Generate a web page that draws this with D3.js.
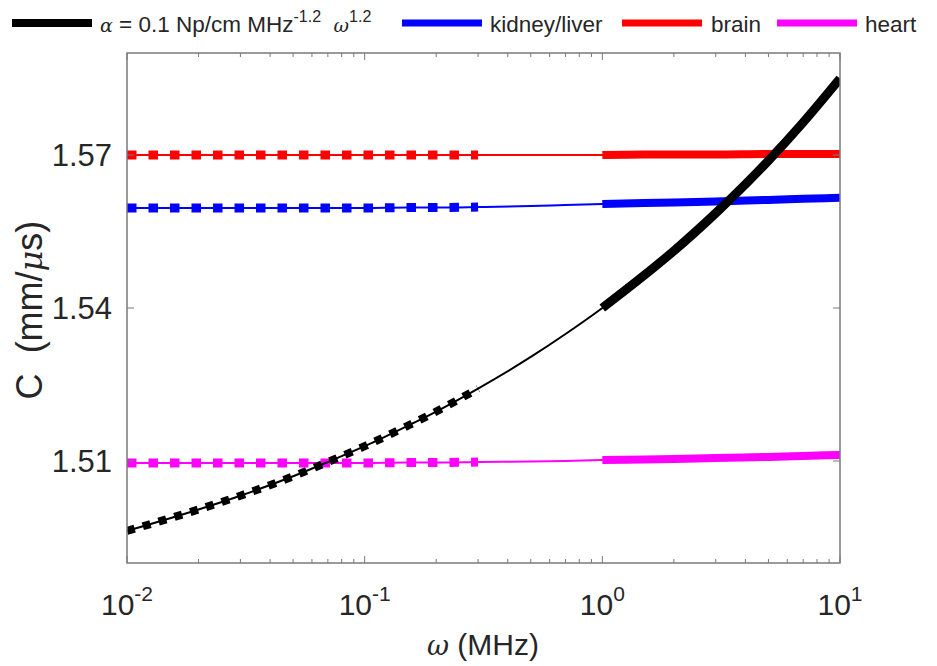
<!DOCTYPE html>
<html>
<head>
<meta charset="utf-8">
<script src="https://cdn.jsdelivr.net/npm/d3@7"></script>
<style>
  body { margin: 0; background: #fff; }
  svg { font-family: "Liberation Sans", Arial, sans-serif; }
</style>
</head>
<body>
<div id="chart"></div>
<script>
const freq = [0.01, 0.02, 0.03, 0.05, 0.07, 0.1, 0.15, 0.2, 0.3, 0.5, 0.7, 1, 1.5, 2, 3, 5, 7, 10];
const powerLaw = [1.4963, 1.5005, 1.5032, 1.5070, 1.5098, 1.5129, 1.5168, 1.5197, 1.5242, 1.5304, 1.5349, 1.5400, 1.5464, 1.5512, 1.5586, 1.5689, 1.5764, 1.5850];
const kidney = [1.5596, 1.5596, 1.5596, 1.5596, 1.5596, 1.5596, 1.5597, 1.5597, 1.5598, 1.5600, 1.5602, 1.5604, 1.5606, 1.5607, 1.5609, 1.5612, 1.5614, 1.5616];
const brain = [1.5700, 1.5700, 1.5700, 1.5700, 1.5700, 1.5700, 1.5700, 1.5700, 1.5700, 1.5700, 1.5700, 1.5700, 1.5701, 1.5701, 1.5701, 1.5702, 1.5702, 1.5702];
const heart = [1.5096, 1.5096, 1.5096, 1.5096, 1.5096, 1.5096, 1.5097, 1.5097, 1.5098, 1.5099, 1.5100, 1.5102, 1.5103, 1.5104, 1.5106, 1.5108, 1.5110, 1.5112];
const yTicks = [1.51, 1.54, 1.57];
const xTicks = [0.01, 0.1, 1, 10];
const xTickExp = ["-2", "-1", "0", "1"];

const seriesList = [
  { name: "alpha", values: powerLaw, color: "#000000", dash: "8,8.5", dashW: 8, thickW: 9 },
  { name: "kidney/liver", values: kidney, color: "#0000ff", dash: "9.5,12", dashW: 9, thickW: 8 },
  { name: "brain", values: brain, color: "#ff0000", dash: "9.5,12", dashW: 9, thickW: 8 },
  { name: "heart", values: heart, color: "#ff00ff", dash: "9.5,12", dashW: 9, thickW: 8 }
];

const W = 937, H = 666;
const margin = { top: 53, right: 97, bottom: 103, left: 127 };
const width = W - margin.left - margin.right,
      height = H - margin.top - margin.bottom;

const svg = d3.select("#chart").append("svg")
  .attr("width", W).attr("height", H);

const g = svg.append("g").attr("transform", `translate(${margin.left},${margin.top})`);

const x = d3.scaleLog().domain([0.01, 10]).range([0, width]);
const y = d3.scaleLinear().domain([1.49, 1.59]).range([height, 0]);

g.append("clipPath").attr("id", "clip")
  .append("rect").attr("width", width).attr("height", height);

const line = d3.line()
  .x(d => x(d[0]))
  .y(d => y(d[1]))
  .curve(d3.curveMonotoneX);

const plot = g.append("g").attr("clip-path", "url(#clip)");

// Reihenfolge wie im Original: Gewebe zuerst, schwarze Kurve obenauf
const drawOrder = [seriesList[1], seriesList[2], seriesList[3], seriesList[0]];
drawOrder.forEach(s => {
  const pts = freq.map((f, i) => [f, s.values[i]]);
  // duenne durchgehende Linie
  plot.append("path")
    .attr("d", line(pts))
    .attr("fill", "none")
    .attr("stroke", s.color)
    .attr("stroke-width", 2);
  // gepunkteter Bereich (niedrige Frequenzen)
  plot.append("path")
    .attr("d", line(pts.filter(p => p[0] <= 0.3)))
    .attr("fill", "none")
    .attr("stroke", s.color)
    .attr("stroke-width", s.dashW)
    .attr("stroke-dasharray", s.dash);
  // dicker Bereich (hohe Frequenzen)
  plot.append("path")
    .attr("d", line(pts.filter(p => p[0] >= 1)))
    .attr("fill", "none")
    .attr("stroke", s.color)
    .attr("stroke-width", s.thickW);
});

// Achsenrahmen
const axisColor = "#7a7a7a";
g.append("rect")
  .attr("width", width).attr("height", height)
  .attr("fill", "none").attr("stroke", axisColor).attr("stroke-width", 1.5);

// Nebenstriche der log. x-Achse
const minor = [];
[0.01, 0.1, 1].forEach(dec => { for (let k = 2; k <= 9; k++) minor.push(dec * k); });
const ticksG = g.append("g").attr("stroke", axisColor).attr("stroke-width", 1);
minor.forEach(v => {
  ticksG.append("line").attr("x1", x(v)).attr("x2", x(v)).attr("y1", height).attr("y2", height - 4);
  ticksG.append("line").attr("x1", x(v)).attr("x2", x(v)).attr("y1", 0).attr("y2", 4);
});
xTicks.forEach(v => {
  ticksG.append("line").attr("x1", x(v)).attr("x2", x(v)).attr("y1", height).attr("y2", height - 7);
  ticksG.append("line").attr("x1", x(v)).attr("x2", x(v)).attr("y1", 0).attr("y2", 7);
});
yTicks.forEach(v => {
  ticksG.append("line").attr("x1", 0).attr("x2", 7).attr("y1", y(v)).attr("y2", y(v));
  ticksG.append("line").attr("x1", width).attr("x2", width - 7).attr("y1", y(v)).attr("y2", y(v));
});

const textColor = "#262626";

// x-Tick-Beschriftung 10^n
xTicks.forEach((v, i) => {
  const t = g.append("text")
    .attr("x", x(v)).attr("y", height + 52)
    .attr("text-anchor", "middle")
    .attr("font-size", 30)
    .attr("fill", textColor);
  t.append("tspan").text("10");
  t.append("tspan").attr("dy", -14).attr("font-size", 21).text(xTickExp[i]);
});

// y-Tick-Beschriftung
yTicks.forEach(v => {
  g.append("text")
    .attr("x", -15).attr("y", y(v) + 11)
    .attr("text-anchor", "end")
    .attr("font-size", 31)
    .attr("fill", textColor)
    .text(d3.format(".2f")(v));
});

// Achsentitel
const xl = svg.append("text")
  .attr("x", 483).attr("y", 655)
  .attr("text-anchor", "middle")
  .attr("font-size", 30)
  .attr("fill", textColor);
xl.append("tspan").attr("font-family", "'DejaVu Serif', serif").attr("font-style", "italic").attr("font-size", 27).text("ω");
xl.append("tspan").text("\u00a0(MHz)");

const yl = svg.append("text")
  .attr("transform", "translate(42,310) rotate(-90)")
  .attr("text-anchor", "middle")
  .attr("font-size", 36)
  .attr("fill", textColor);
yl.append("tspan").text("C\u00a0\u00a0(mm/");
yl.append("tspan").attr("font-family", "'DejaVu Serif', serif").attr("font-style", "italic").attr("font-size", 32).text("μ");
yl.append("tspan").text("s)");

// Legende
const legendItems = [
  { color: "#000000", x0: 12, w: 8, tx: 100 },
  { color: "#0000ff", x0: 402, w: 7, tx: 490, label: "kidney/liver" },
  { color: "#ff0000", x0: 622, w: 7, tx: 711, label: "brain" },
  { color: "#ff00ff", x0: 777, w: 7, tx: 865, label: "heart" }
];
legendItems.forEach(d => {
  svg.append("line")
    .attr("x1", d.x0).attr("x2", d.x0 + 80)
    .attr("y1", 23).attr("y2", 23)
    .attr("stroke", d.color).attr("stroke-width", d.w);
  const t = svg.append("text")
    .attr("x", d.tx).attr("y", 32)
    .attr("font-size", 22.5)
    .attr("fill", textColor);
  if (d.label) {
    t.text(d.label);
  } else {
    t.append("tspan").attr("font-family", "'DejaVu Serif', serif").attr("font-style", "italic").attr("font-size", 19).text("α");
    t.append("tspan").text("\u00a0=\u00a00.1\u00a0Np/cm\u00a0MHz");
    t.append("tspan").attr("dy", -10).attr("font-size", 16).text("-1.2");
    t.append("tspan").attr("dy", 10).text("\u00a0\u00a0");
    t.append("tspan").attr("font-family", "'DejaVu Serif', serif").attr("font-style", "italic").attr("font-size", 19).text("ω");
    t.append("tspan").attr("dy", -10).attr("font-size", 16).text("1.2");
  }
});
</script>
</body>
</html>
